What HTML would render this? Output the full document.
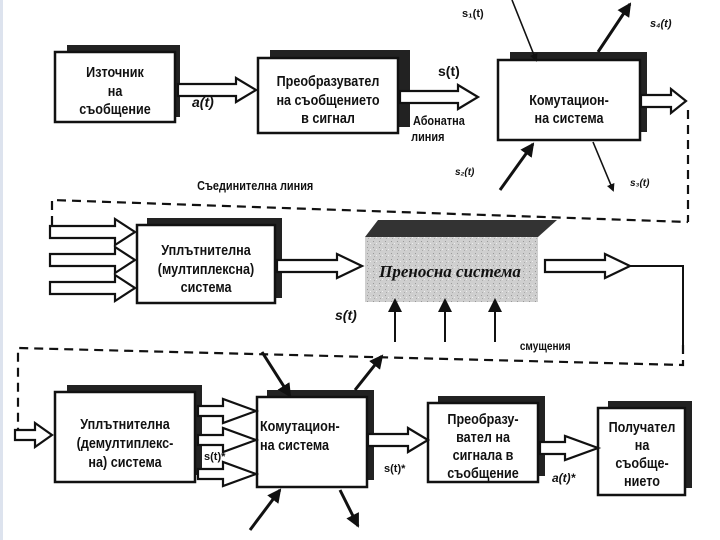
<!DOCTYPE html>
<html><head><meta charset="utf-8"><style>
body{margin:0;background:#fff}
svg{display:block}
text{font-family:"Liberation Sans",sans-serif;fill:#111}
.b text,.n{transform-box:fill-box;transform-origin:center;transform:scaleX(.84)}
.b text.l{transform-origin:left center}
.serif{font-family:"Liberation Serif",serif}
</style></head><body>
<svg width="720" height="540" viewBox="0 0 720 540" xmlns="http://www.w3.org/2000/svg">
<defs>
<marker id="ah" markerWidth="8" markerHeight="8" refX="6" refY="4" orient="auto" markerUnits="userSpaceOnUse">
<path d="M0,0 L8,4 L0,8 Z" fill="#111"/></marker>
<marker id="ah2" markerWidth="14" markerHeight="14" refX="12" refY="7" orient="auto" markerUnits="userSpaceOnUse">
<path d="M0,0 L14,7 L0,14 Z" fill="#111"/></marker>
<pattern id="noise" width="6" height="6" patternUnits="userSpaceOnUse">
<rect width="6" height="6" fill="#cfcfcf"/><rect x="1" y="1" width="1" height="1" fill="#999"/><rect x="4" y="3" width="1" height="1" fill="#eee"/><rect x="2" y="4" width="1" height="1" fill="#aaa"/></pattern>
</defs>
<rect x="0" y="0" width="3" height="540" fill="#dde3ee"/>
<g stroke="#111" stroke-width="2.5" fill="#fff">
<rect x="67" y="45" width="113" height="72" fill="#222" stroke="none"/>
<rect x="55" y="52" width="120" height="70"/>
<rect x="270" y="50" width="140" height="77" fill="#222" stroke="none"/>
<rect x="258" y="58" width="140" height="75"/>
<rect x="510" y="52" width="137" height="80" fill="#222" stroke="none"/>
<rect x="498" y="60" width="142" height="80"/>
<rect x="147" y="218" width="135" height="80" fill="#222" stroke="none"/>
<rect x="137" y="225" width="138" height="78"/>
<rect x="67" y="385" width="135" height="90" fill="#222" stroke="none"/>
<rect x="55" y="392" width="140" height="90"/>
<rect x="267" y="390" width="107" height="90" fill="#222" stroke="none"/>
<rect x="257" y="397" width="110" height="90"/>
<rect x="438" y="396" width="107" height="80" fill="#222" stroke="none"/>
<rect x="428" y="403" width="110" height="79"/>
<rect x="608" y="401" width="84" height="87" fill="#222" stroke="none"/>
<rect x="598" y="408" width="87" height="87"/>
</g>
<path d="M365,237 L378,220 L557,220 L538,237 Z" fill="#333"/>
<rect x="365" y="237" width="173" height="65" fill="url(#noise)"/>
<g stroke="#111" stroke-width="2.2" fill="#fff" stroke-linejoin="miter">
<path d="M0,-6 L58,-6 L58,-12 L78,0 L58,12 L58,6 L0,6 Z" transform="translate(178,90)"/>
<path d="M0,-6 L58,-6 L58,-12 L78,0 L58,12 L58,6 L0,6 Z" transform="translate(400,97)"/>
<path d="M0,-6 L30,-6 L30,-12 L45,0 L30,12 L30,6 L0,6 Z" transform="translate(641,101)"/>
<path d="M0,-6 L65,-6 L65,-13 L85,0 L65,13 L65,6 L0,6 Z" transform="translate(50,232)"/>
<path d="M0,-6 L65,-6 L65,-13 L85,0 L65,13 L65,6 L0,6 Z" transform="translate(50,260)"/>
<path d="M0,-6 L65,-6 L65,-13 L85,0 L65,13 L65,6 L0,6 Z" transform="translate(50,288)"/>
<path d="M0,-6 L60,-6 L60,-12 L85,0 L60,12 L60,6 L0,6 Z" transform="translate(277,266)"/>
<path d="M0,-6 L60,-6 L60,-12 L85,0 L60,12 L60,6 L0,6 Z" transform="translate(545,266)"/>
<path d="M0,-5 L25,-5 L25,-12 L58,0 L25,12 L25,5 L0,5 Z" transform="translate(198,411)"/>
<path d="M0,-5 L25,-5 L25,-12 L58,0 L25,12 L25,5 L0,5 Z" transform="translate(198,440)"/>
<path d="M0,-5 L25,-5 L25,-12 L58,0 L25,12 L25,5 L0,5 Z" transform="translate(198,474)"/>
<path d="M0,-6 L40,-6 L40,-12 L60,0 L40,12 L40,6 L0,6 Z" transform="translate(368,440)"/>
<path d="M0,-6 L25,-6 L25,-12 L58,0 L25,12 L25,6 L0,6 Z" transform="translate(540,448)" />
<path d="M0,-5 L20,-5 L20,-12 L37,0 L20,12 L20,5 L0,5 Z" transform="translate(15,435)"/>
</g>
<path d="M688,110 L688,222 M52,225 L52,200 L688,222" stroke="#111" stroke-width="2.2" fill="none" stroke-dasharray="9,6"/>
<path d="M630,266 L683,266 L683,350" stroke="#111" stroke-width="2" fill="none"/>
<path d="M683,345 L683,365 L18,348 L18,430" stroke="#111" stroke-width="2.2" fill="none" stroke-dasharray="9,6"/>
<g stroke="#111" fill="none">
<line x1="512" y1="0" x2="536" y2="60" stroke-width="1.6" marker-end="url(#ah)"/>
<line x1="598" y1="52" x2="630" y2="4" stroke-width="3" marker-end="url(#ah2)"/>
<line x1="500" y1="190" x2="533" y2="144" stroke-width="3" marker-end="url(#ah2)"/>
<line x1="593" y1="142" x2="613" y2="190" stroke-width="1.6" marker-end="url(#ah)"/>
<line x1="395" y1="342" x2="395" y2="300" stroke-width="2" marker-end="url(#ah2)"/>
<line x1="445" y1="342" x2="445" y2="300" stroke-width="2" marker-end="url(#ah2)"/>
<line x1="495" y1="342" x2="495" y2="300" stroke-width="2" marker-end="url(#ah2)"/>
<line x1="262" y1="352" x2="290" y2="396" stroke-width="3" marker-end="url(#ah2)"/>
<line x1="355" y1="390" x2="382" y2="356" stroke-width="3" marker-end="url(#ah2)"/>
<line x1="250" y1="530" x2="280" y2="490" stroke-width="3" marker-end="url(#ah2)"/>
<line x1="340" y1="490" x2="358" y2="526" stroke-width="3" marker-end="url(#ah2)"/>
</g>
<g class="b" text-anchor="middle" font-weight="bold" font-size="15px">
<text x="115" y="77">Източник</text><text x="115" y="96">на</text><text x="115" y="114">съобщение</text>
<text x="328" y="86">Преобразувател</text><text x="328" y="105">на съобщението</text><text x="328" y="123">в сигнал</text>
<text x="569" y="105">Комутацион-</text><text x="569" y="123">на система</text>
<text x="206" y="255">Уплътнителна</text><text x="206" y="274">(мултиплексна)</text><text x="206" y="292">система</text>
<text x="125" y="429">Уплътнителна</text><text x="125" y="448">(демултиплекс-</text><text x="125" y="467">на) система</text>
<text x="483" y="424">Преобразу-</text><text x="483" y="442">вател на</text><text x="483" y="460">сигнала в</text><text x="483" y="478">съобщение</text>
<text x="642" y="432">Получател</text><text x="642" y="450">на</text><text x="642" y="468">съобще-</text><text x="642" y="486">нието</text>
<text class="l" x="260" y="431" text-anchor="start">Комутацион-</text><text class="l" x="260" y="450" text-anchor="start">на система</text>
</g>
<g font-weight="bold" font-size="14px">
<text class="serif" x="450" y="277" font-size="17px" font-style="italic" text-anchor="middle">Преносна система</text>
<text x="192" y="107" font-style="italic">a(t)</text>
<text x="438" y="76">s(t)</text>
<text class="n" x="408" y="125" font-size="13px">Абонатна</text><text class="n" x="408" y="141" font-size="13px">линия</text>
<text x="462" y="17" font-size="11px">s₁(t)</text>
<text x="650" y="27" font-size="11px" font-style="italic">s₄(t)</text>
<text x="455" y="175" font-size="10px" font-style="italic">s₂(t)</text>
<text x="630" y="186" font-size="10px" font-style="italic">s₃(t)</text>
<text class="n" x="186" y="190" font-size="13px">Съединителна линия</text>
<text x="335" y="320" font-style="italic">s(t)</text>
<text class="n" x="515" y="350" font-size="12px">смущения</text>
<text x="204" y="460" font-size="11px">s(t)*</text>
<text x="384" y="472" font-size="11px">s(t)*</text>
<text x="552" y="482" font-style="italic" font-size="12px">a(t)*</text>
</g>
</svg>
</body></html>
